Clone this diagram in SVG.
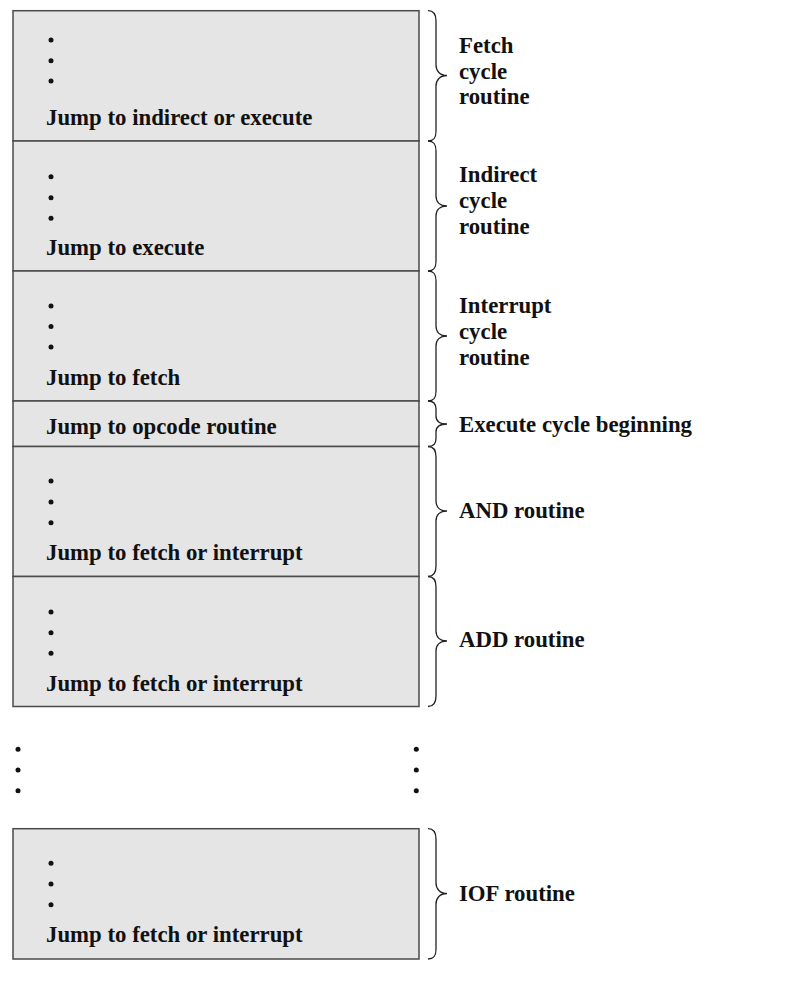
<svg xmlns="http://www.w3.org/2000/svg" width="788" height="987" viewBox="0 0 788 987">
<style>
.box{fill:#e5e5e5;stroke:#4a4a4a;stroke-width:1.5}
.t{font-family:"Liberation Serif","Times New Roman",serif;font-weight:bold;font-size:22.8px;fill:#111}
.dot{fill:#111}
.brace{fill:none;stroke:#222;stroke-width:1.3}
</style>
<rect width="788" height="987" fill="#fff"/>
<g id="fetch">
<rect class="box" x="13" y="10.7" width="406" height="130.3"/>
<circle class="dot" cx="51" cy="40" r="2.5"/><circle class="dot" cx="51" cy="60.7" r="2.5"/><circle class="dot" cx="51" cy="81" r="2.5"/>
<text class="t" x="46" y="125">Jump to indirect or execute</text>
</g>
<g id="indirect">
<rect class="box" x="13" y="141" width="406" height="130"/>
<circle class="dot" cx="51" cy="176.7" r="2.5"/><circle class="dot" cx="51" cy="197.7" r="2.5"/><circle class="dot" cx="51" cy="218.3" r="2.5"/>
<text class="t" x="46" y="254.5">Jump to execute</text>
</g>
<g id="interrupt">
<rect class="box" x="13" y="271" width="406" height="130"/>
<circle class="dot" cx="51" cy="306" r="2.5"/><circle class="dot" cx="51" cy="326.5" r="2.5"/><circle class="dot" cx="51" cy="347" r="2.5"/>
<text class="t" x="46" y="385">Jump to fetch</text>
</g>
<g id="execute">
<rect class="box" x="13" y="401" width="406" height="45.5"/>
<text class="t" x="46" y="433.5">Jump to opcode routine</text>
</g>
<g id="and">
<rect class="box" x="13" y="446.5" width="406" height="130"/>
<circle class="dot" cx="51" cy="481" r="2.5"/><circle class="dot" cx="51" cy="502" r="2.5"/><circle class="dot" cx="51" cy="522.7" r="2.5"/>
<text class="t" x="46" y="559.5">Jump to fetch or interrupt</text>
</g>
<g id="add">
<rect class="box" x="13" y="576.5" width="406" height="130"/>
<circle class="dot" cx="51" cy="612" r="2.5"/><circle class="dot" cx="51" cy="632.7" r="2.5"/><circle class="dot" cx="51" cy="653.3" r="2.5"/>
<text class="t" x="46" y="690.5">Jump to fetch or interrupt</text>
</g>
<g id="ellipsis">
<circle class="dot" cx="18" cy="749.3" r="2.5"/><circle class="dot" cx="18" cy="770" r="2.5"/><circle class="dot" cx="18" cy="790.7" r="2.5"/>
<circle class="dot" cx="416.3" cy="749.3" r="2.5"/><circle class="dot" cx="416.3" cy="770" r="2.5"/><circle class="dot" cx="416.3" cy="790.7" r="2.5"/>
</g>
<g id="iof">
<rect class="box" x="13" y="828.7" width="406" height="130.3"/>
<circle class="dot" cx="51" cy="863.3" r="2.5"/><circle class="dot" cx="51" cy="884" r="2.5"/><circle class="dot" cx="51" cy="904.7" r="2.5"/>
<text class="t" x="46" y="941.5">Jump to fetch or interrupt</text>
</g>
<g id="braces">
<path class="brace" d="M428 10.7 C433 10.7 436 13 436 21 L436 65 C436 71 440 75.5 447 75.5 C440 75.5 436 80 436 86 L436 131 C436 139 433 141 428 141"/>
<path class="brace" d="M428 141 C433 141 436 143 436 151 L436 196 C436 202 440 206 447 206 C440 206 436 210 436 216 L436 261 C436 269 433 271 428 271"/>
<path class="brace" d="M428 271 C433 271 436 273 436 281 L436 326 C436 332 440 336 447 336 C440 336 436 340 436 346 L436 391 C436 399 433 401 428 401"/>
<path class="brace" d="M428 401 C433 401 436 403 436 409 L436 416 C436 421 440 424 447 424 C440 424 436 427 436 432 L436 438.5 C436 444.5 433 446.5 428 446.5"/>
<path class="brace" d="M428 446.5 C433 446.5 436 449 436 457 L436 501 C436 507 440 511 447 511 C440 511 436 515 436 521 L436 566 C436 574 433 576.5 428 576.5"/>
<path class="brace" d="M428 576.5 C433 576.5 436 579 436 587 L436 631 C436 637 440 641 447 641 C440 641 436 645 436 651 L436 696 C436 704 433 706.5 428 706.5"/>
<path class="brace" d="M428 828.7 C433 828.7 436 831 436 839 L436 883 C436 889 440 893.5 447 893.5 C440 893.5 436 898 436 904 L436 949 C436 957 433 959 428 959"/>
</g>
<g id="labels">
<text class="t" x="459" y="52.7">Fetch</text>
<text class="t" x="459" y="78.5">cycle</text>
<text class="t" x="459" y="104.3">routine</text>
<text class="t" x="459" y="182">Indirect</text>
<text class="t" x="459" y="207.8">cycle</text>
<text class="t" x="459" y="233.5">routine</text>
<text class="t" x="459" y="313.3">Interrupt</text>
<text class="t" x="459" y="339">cycle</text>
<text class="t" x="459" y="364.5">routine</text>
<text class="t" x="459" y="431.7">Execute cycle beginning</text>
<text class="t" x="459" y="517.5">AND routine</text>
<text class="t" x="459" y="647">ADD routine</text>
<text class="t" x="459" y="900.5">IOF routine</text>
</g>
</svg>
